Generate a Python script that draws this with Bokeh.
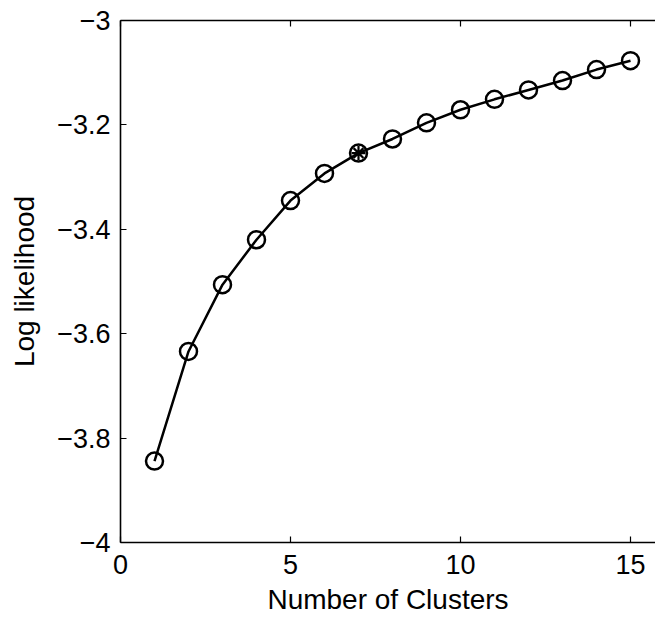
from bokeh.plotting import figure
from bokeh.models import LinearAxis, FixedTicker, CustomJSTickFormatter, Range1d
from bokeh.embed import file_html
from bokeh.resources import INLINE

# Data
clusters = [1, 2, 3, 4, 5, 6, 7, 8, 9, 10, 11, 12, 13, 14, 15]
log_likelihood = [-3.844, -3.634, -3.506, -3.420, -3.345, -3.293, -3.254,
                  -3.227, -3.196, -3.171, -3.151, -3.133, -3.115, -3.094, -3.077]
best_k = [7]
best_ll = [-3.254]

x_ticks = [0, 5, 10, 15]
y_ticks = [-4, -3.8, -3.6, -3.4, -3.2, -3]

FONT = "Liberation Sans"

p = figure(width=655, height=619, output_backend="svg", toolbar_location=None,
           x_range=Range1d(0, 15.735), y_range=Range1d(-4, -3),
           min_border_left=120, min_border_top=20, min_border_right=0, min_border_bottom=77)
p.outline_line_color = None
p.xgrid.visible = False
p.ygrid.visible = False
p.background_fill_color = "white"

fmt = CustomJSTickFormatter(code="""
var s = Math.abs(tick).toFixed(1).replace(/\\.0$/, '');
return (tick < -1e-9 ? '\\u2212' : '') + s;
""")

for ax in (p.xaxis[0], p.yaxis[0]):
    ax.major_tick_in = 6
    ax.major_tick_out = 0
    ax.minor_tick_line_color = None
    ax.axis_line_width = 1.6
    ax.axis_line_color = "black"
    ax.major_tick_line_width = 1.2
    ax.major_tick_line_color = "black"
    ax.major_label_text_font = FONT
    ax.major_label_text_font_size = "27px"
    ax.major_label_text_color = "black"
    ax.axis_label_text_font = FONT
    ax.axis_label_text_font_size = "28px"
    ax.axis_label_text_font_style = "normal"
    ax.axis_label_text_color = "black"
    ax.formatter = fmt

p.xaxis[0].ticker = FixedTicker(ticks=x_ticks)
p.yaxis[0].ticker = FixedTicker(ticks=y_ticks)
p.xaxis[0].axis_label = "Number of Clusters"
p.yaxis[0].axis_label = "Log likelihood"
p.xaxis[0].major_label_standoff = 12
p.xaxis[0].axis_label_standoff = 7
p.yaxis[0].major_label_standoff = 10
p.yaxis[0].axis_label_standoff = 14

top = LinearAxis(ticker=FixedTicker(ticks=x_ticks), major_label_text_font_size="0px",
                 major_label_text_color=None,
                 major_label_standoff=0, major_tick_in=6, major_tick_out=0,
                 minor_tick_line_color=None, axis_line_width=1.6, axis_line_color="black",
                 major_tick_line_width=1.2, major_tick_line_color="black")
p.add_layout(top, "above")

p.line(clusters, log_likelihood, line_color="black", line_width=2.5)
p.scatter(clusters, log_likelihood, marker="circle", size=17, fill_color=None,
          line_color="black", line_width=2.5)
p.scatter(best_k, best_ll, marker="asterisk", size=14, line_color="black", line_width=2.2)

open("out.html", "w").write(file_html(p, INLINE))
